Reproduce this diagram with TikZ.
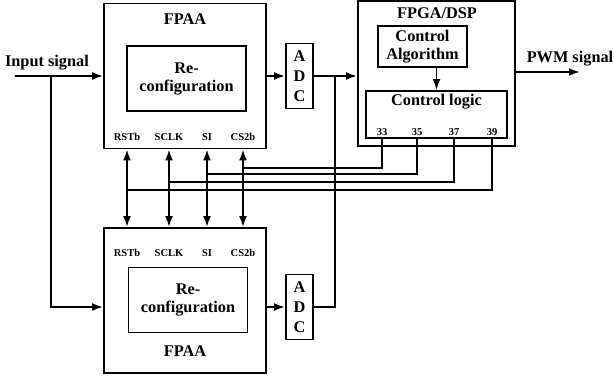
\documentclass[tikz,border=0pt]{standalone}
\usepackage{fontspec}
\setmainfont{Liberation Serif}
\usetikzlibrary{arrows.meta, positioning, calc}

\begin{document}
\begin{tikzpicture}[x=1pt, y=-1pt, line width=1.9pt,
    font=\bfseries\fontsize{16.3}{18}\selectfont]
  \tikzset{
    chipbox/.style={rectangle, draw, minimum width=162pt, minimum height=145pt, inner sep=0pt},
    innerbox/.style={rectangle, draw, align=center, minimum width=119pt, minimum height=65pt, inner sep=0pt},
    adcbox/.style={rectangle, draw, align=center, minimum width=27pt, minimum height=65pt,
      inner sep=0pt, font=\bfseries\fontsize{16.3}{20}\selectfont},
    pinlabel/.style={inner sep=0pt, font=\bfseries\fontsize{10.5}{12}\selectfont},
    sig/.style={-{Latex[length=11pt,width=8pt]}},
    dsig/.style={{Latex[length=11pt,width=8pt]}-{Latex[length=11pt,width=8pt]}},
    bus/.style={line width=1.4pt}
  }
  \useasboundingbox (0,0) rectangle (614,379);
  % upper FPAA
  \node[chipbox] (fpaa1) at (185,76) {};
  \node (fpaaT1) at (185,19) {FPAA};
  \node[innerbox] (reconf1) at (186.5,78.5) {Re-\\configuration};
  \node[pinlabel] (rst1)  at (127,137) {RSTb};
  \node[pinlabel] (sclk1) at (169,137) {SCLK};
  \node[pinlabel] (si1)   at (207,137) {SI};
  \node[pinlabel] (cs1)   at (243,137) {CS2b};
  % lower FPAA
  \node[chipbox] (fpaa2) at (185,300.5) {};
  \node (fpaaT2) at (185,351) {FPAA};
  \node[innerbox] (reconf2) at (188,300) {Re-\\configuration};
  \node[pinlabel] (rst2)  at (127,253) {RSTb};
  \node[pinlabel] (sclk2) at (169,253) {SCLK};
  \node[pinlabel] (si2)   at (207,253) {SI};
  \node[pinlabel] (cs2)   at (243,253) {CS2b};
  % converters
  \node[adcbox] (adc1) at (299.5,76) {A\\D\\C};
  \node[adcbox] (adc2) at (299.5,307) {A\\D\\C};
  % FPGA/DSP
  \node[chipbox, minimum width=157pt] (fpga) at (436.5,73.5) {};
  \node (fpgaT) at (437,13) {FPGA/DSP};
  \node[innerbox, minimum width=89pt, minimum height=41pt] (ctrlAlg) at (422.5,46.5) {Control\\Algorithm};
  \node[innerbox, minimum width=141pt, minimum height=47pt] (ctrlLog) at (436.5,114.5) {};
  \node (ctrlTxt) at (436.5,102) {Control logic};
  \foreach \n/\x in {33/382, 35/417, 37/454, 39/492}
    \node[pinlabel] (p\n) at (\x,132) {\n};
  \draw[sig] (ctrlAlg.south -| ctrlTxt) -- (ctrlLog.north -| ctrlTxt);
  % signal path
  \coordinate (inStart) at (15,76);
  \coordinate (inJ) at (51,76);
  \node (inTxt) at (47,63) {Input signal};
  \draw[sig] (inStart) -- (fpaa1.west |- inStart);
  \draw[sig] (inJ) |- (fpaa2.west |- adc2);
  \draw[sig] (fpaa1.east |- adc1) -- (adc1.west);
  \draw[sig] (fpaa2.east |- adc2) -- (adc2.west);
  \draw[sig] (adc1.east) -- (fpga.west |- adc1);
  \coordinate (adcJ) at (335,76);
  \draw (adc2.east) -| (adcJ);
  \coordinate (pwm) at (580,72);
  \draw[sig] (fpga.east |- pwm) -- (pwm);
  \node (pwmTxt) at (570,59) {PWM signal};
  % programming lines
  \foreach \a/\b in {rst1/rst2, sclk1/sclk2, si1/si2, cs1/cs2}
    \draw[dsig] (fpaa1.south -| \a) -- (fpaa2.north -| \b);
  \foreach \p/\a/\y in {p33/cs1/168, p35/si1/174, p37/sclk1/182, p39/rst1/190}
    \draw[bus] (ctrlLog.south -| \p) |- (\a |- 0,\y);
\end{tikzpicture}
\end{document}
